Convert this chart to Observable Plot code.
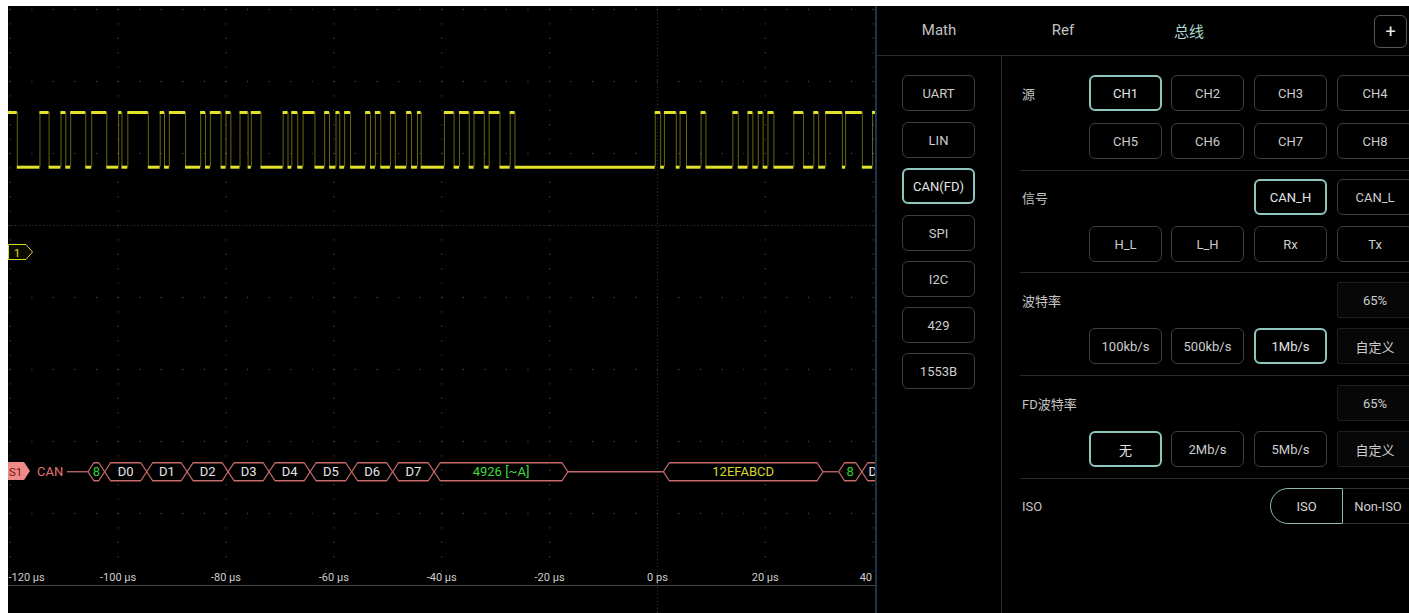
<!DOCTYPE html>
<html><head><meta charset="utf-8">
<script src="https://cdn.jsdelivr.net/npm/d3@7"></script>
<script src="https://cdn.jsdelivr.net/npm/@observablehq/plot@0.6"></script>
<style>
html,body{margin:0;padding:0;background:#fff;width:1409px;height:613px;overflow:hidden;font-family:Roboto,"Noto Sans CJK SC",sans-serif;}
#scope{position:absolute;left:8px;top:6px;width:867px;height:607px;background:#000;overflow:hidden;}
#scope svg{display:block;}
#panel{position:absolute;left:875px;top:6px;width:534px;height:607px;background:#000;border-left:2px solid #1b3553;box-sizing:border-box;overflow:hidden;}
.el{position:absolute;box-sizing:border-box;display:flex;align-items:center;justify-content:center;color:#cdcdcd;font-size:13px;white-space:nowrap;}
.btn{border:1px solid #3e3e3e;border-radius:6px;}
.sel{border:2px solid #8cc6bc;color:#e4e4e4;}
.val{border:1px solid #1f1f1f;border-radius:2px;background:#070707;}
.lab{justify-content:flex-start;color:#c4c4c4;font-size:13px;}
.tab{font-size:15px;color:#c2c2c2;}
.hr{position:absolute;height:1px;background:#2a2a2a;}
.vr{position:absolute;width:1px;background:#2a2a2a;}
.tag{position:absolute;}
</style></head>
<body>
<div id="scope"></div>
<div id="panel"></div>
<script>
// ---- axis ticks ----
const xTickValues = [-120, -100, -80, -60, -40, -20, 0, 20, 40];
const xTickLabels = ["-120 µs", "-100 µs", "-80 µs", "-60 µs", "-40 µs", "-20 µs", "0 ps", "20 µs", "40 µs"];

// ---- CH1 waveform: edge times (µs); level toggles at every edge ----
const initialLevel = 1; // high at left edge
const edgeTimes = [-118.7, -114.5, -112.8, -110.6, -109.7, -108.8, -106.0, -104.9, -102.1, -99.9,
  -99.3, -98.2, -94.4, -92.2, -91.4, -90.5, -87.5, -84.7, -83.8, -82.9,
  -80.9, -80.0, -79.1, -77.4, -75.9, -75.3, -73.5, -69.4, -68.5, -67.8,
  -66.7, -65.7, -63.5, -61.7, -60.8, -59.6, -58.9, -58.0, -56.9, -54.1,
  -53.2, -52.3, -51.3, -49.5, -48.6, -46.5, -45.6, -44.5, -43.8, -39.5,
  -37.7, -36.7, -34.9, -34.0, -32.1, -31.2, -29.2, -27.3, -26.4, -0.4,
  0.6, 1.3, 3.5, 4.2, 5.4, 8.1, 9.0, 14.0, 15.0, 16.8,
  17.7, 18.7, 19.6, 20.5, 21.6, 25.3, 27.1, 29.0, 29.9, 31.2,
  34.3, 34.9, 38.0, 39.9];
const levelLow = 1.81;   // divisions
const levelHigh = 2.57;  // divisions

// ---- decoded CAN bus row ----
const busLevel = -2.42; // divisions
const busStart = [-105.6, -102.5, -94.7, -87.2, -79.6, -72.0, -64.4, -56.7, -49.1, -41.4, 1.1, 33.6, 37.9];
const busEnd   = [-102.5, -94.7, -87.2, -79.6, -72.0, -64.4, -56.7, -49.1, -41.4, -16.6, 30.7, 37.9, 43.3];
const busLabel = ["8", "D0", "D1", "D2", "D3", "D4", "D5", "D6", "D7", "4926 [~A]", "12EFABCD", "8", "D0"];
const busKind  = ["dlc", "data", "data", "data", "data", "data", "data", "data", "data", "crc", "id", "dlc", "data"];
const idleStart = [-109.4, -16.6, 30.7];
const idleEnd   = [-105.6, 1.1, 33.6];

const xDomain = [-120.33, 40.44];
const yDomain = [-4.389, 4.042];

// segments of the waveform
const bounds = [xDomain[0], ...edgeTimes, xDomain[1]];
const segs = d3.range(bounds.length - 1).map(i => ({
  x1: bounds[i], x2: bounds[i + 1],
  y: ((i % 2 === 0) ? initialLevel : 1 - initialLevel) ? levelHigh : levelLow
}));
const edges = edgeTimes.map(t => ({t}));

// hexagon outlines for bus packets
const inset = 1.1, hh = 0.125;
const hexPts = [];
busStart.forEach((s, i) => {
  const e = busEnd[i];
  [[s, busLevel], [s + inset, busLevel + hh], [e - inset, busLevel + hh], [e, busLevel],
   [e - inset, busLevel - hh], [s + inset, busLevel - hh], [s, busLevel]]
    .forEach(([x, y]) => hexPts.push({x, y, id: i}));
});
const busItems = busLabel.map((l, i) => ({x: (busStart[i] + busEnd[i]) / 2, label: l, kind: busKind[i]}));
const idles = idleStart.map((s, i) => ({x1: s, x2: idleEnd[i]}));

// grid
const gridY = d3.range(-4, 5);
const gridDotsV = [];
xTickValues.filter(v => v !== 0).forEach(x => d3.range(-4, 4.001, 0.2).forEach(y => gridDotsV.push({x, y})));
const gridDotsH = [];
gridY.filter(v => v !== 1 && v !== -4).forEach(y => d3.range(-120, 40.1, 4).forEach(x => gridDotsH.push({x, y})));

const ticks = xTickValues.map((v, i) => ({v, label: xTickLabels[i]}));
const busColor = {dlc: "#2fd02f", data: "#e6e6e6", crc: "#3ddc3d", id: "#d8d82a"};
const busStroke = "#c66a6a";
const yellow = "#e2e22a";

const chart = Plot.plot({
  width: 867, height: 607, margin: 0,
  style: {background: "#000", overflow: "hidden", fontFamily: "Roboto, sans-serif"},
  x: {domain: xDomain, axis: null},
  y: {domain: yDomain, axis: null},
  marks: [
    Plot.dot(gridDotsV, {x: "x", y: "y", r: 0.7, fill: "#444", stroke: null}),
    Plot.dot(gridDotsH, {x: "x", y: "y", r: 0.7, fill: "#444", stroke: null}),
    Plot.ruleX([0], {stroke: "#3c3c3c", strokeDasharray: "1,2.5"}),
    Plot.ruleY([1], {stroke: "#3c3c3c", strokeDasharray: "1,2.5"}),
    Plot.ruleY([-4], {stroke: "#474747", strokeWidth: 1}),
    Plot.ruleX(edges, {x: "t", y1: levelLow, y2: levelHigh, stroke: yellow, strokeOpacity: 0.45, strokeWidth: 1}),
    Plot.ruleY(segs, {y: "y", x1: "x1", x2: "x2", stroke: yellow, strokeWidth: 3}),
    Plot.ruleY(idles, {y: busLevel, x1: "x1", x2: "x2", stroke: busStroke, strokeWidth: 1.3}),
    Plot.line(hexPts, {x: "x", y: "y", z: "id", stroke: busStroke, strokeWidth: 1.3}),
    ...Object.keys(busColor).map(k =>
      Plot.text(busItems.filter(d => d.kind === k), {x: "x", y: busLevel, text: "label", fill: busColor[k], fontSize: 13})),
    Plot.text(["CAN"], {x: -112.6, y: busLevel, text: d => d, fill: "#e07474", fontSize: 13}),
    Plot.text(ticks.slice(0, 1), {x: xDomain[0], y: -4, dy: -8, text: "label", fill: "#cfcfcf", fontSize: 11, textAnchor: "start"}),
    Plot.text(ticks.slice(1), {x: "v", y: -4, dy: -8, text: "label", fill: "#cfcfcf", fontSize: 11})
  ]
});
const scope = document.getElementById("scope");
scope.appendChild(chart);

// channel / serial tags
scope.insertAdjacentHTML("beforeend",
  `<svg class="tag" style="left:0;top:238px" width="26" height="17"><polygon points="0.5,0.5 18,0.5 24.5,8 18,15.5 0.5,15.5" fill="#0b0b00" stroke="#d8d82a" stroke-width="1"/><text x="6" y="12.5" fill="#e0e02a" font-size="11" font-family="Roboto">1</text></svg>
   <svg class="tag" style="left:0;top:456px" width="24" height="18"><polygon points="0,0 16,0 22,9 16,18 0,18" fill="#f08a8a"/><text x="1" y="13.5" fill="#7a1414" font-size="11.5" font-family="Roboto">S1</text></svg>`);

// ---- right-hand panel (UI) ----
const panel = document.getElementById("panel");
function el(cls, text, x, y, w, h) {
  const d = document.createElement("div");
  d.className = "el " + cls; d.textContent = text;
  Object.assign(d.style, {left: x + "px", top: y + "px", width: w + "px", height: h + "px"});
  panel.appendChild(d); return d;
}
function hr(x, y, w) { const d = document.createElement("div"); d.className = "hr"; Object.assign(d.style, {left: x + "px", top: y + "px", width: w + "px"}); panel.appendChild(d); }
function vr(x, y, h) { const d = document.createElement("div"); d.className = "vr"; Object.assign(d.style, {left: x + "px", top: y + "px", height: h + "px"}); panel.appendChild(d); }

const tabs = ["Math", "Ref", "总线"];
const tabX = [62, 186, 312];
tabs.forEach((t, i) => { const d = el("tab", t, tabX[i] - 40, 9, 80, 30); if (i === 2) d.style.color = "#a9d9cf"; });
const plus = el("btn", "+", 497, 9, 33, 33); plus.style.fontSize = "18px"; plus.style.color = "#e8e8e8"; plus.style.borderColor = "#555";
hr(0, 49, 534);
vr(124, 49, 560);

const busTypes = ["UART", "LIN", "CAN(FD)", "SPI", "I2C", "429", "1553B"];
const busTops = [69, 116, 162, 209, 255, 301, 347];
busTypes.forEach((b, i) => el(b === "CAN(FD)" ? "btn sel" : "btn", b, 25, busTops[i], 73, 36));

const colX = [212, 294, 377, 460];
const colW = 73;
function row(items, top, selected, startCol = 0, valueLike = []) {
  items.forEach((t, i) => {
    const c = startCol + i;
    let cls = "btn";
    if (t === selected) cls = "btn sel";
    if (valueLike.includes(t)) cls = "val";
    el(cls, t, colX[c], top, c === 3 ? 76 : colW, 36);
  });
}
const labels = ["源", "信号", "波特率", "FD波特率", "ISO"];
const labelY = [87, 191, 294, 397, 500];
labels.forEach((l, i) => el("lab", l, 145, labelY[i] - 10, 80, 20));

row(["CH1", "CH2", "CH3", "CH4"], 69, "CH1");
row(["CH5", "CH6", "CH7", "CH8"], 117, "");
hr(143, 164, 400);
row(["CAN_H", "CAN_L"], 173, "CAN_H", 2);
row(["H_L", "L_H", "Rx", "Tx"], 220, "");
hr(143, 266, 400);
row(["65%"], 276, "", 3, ["65%"]);
row(["100kb/s", "500kb/s", "1Mb/s", "自定义"], 322, "1Mb/s", 0, ["自定义"]);
hr(143, 369, 400);
row(["65%"], 379, "", 3, ["65%"]);
row(["无", "2Mb/s", "5Mb/s", "自定义"], 425, "无", 0, ["自定义"]);
hr(143, 472, 400);
const iso = el("", "ISO", 393, 482, 73, 36);
Object.assign(iso.style, {border: "1.5px solid #8fb8b2", borderRadius: "18px 0 0 18px", color: "#d8d8d8"});
const niso = el("", "Non-ISO", 465, 482, 72, 36);
Object.assign(niso.style, {border: "1px solid #333", borderLeft: "1.5px solid #8fb8b2"});
</script>
</body></html>
